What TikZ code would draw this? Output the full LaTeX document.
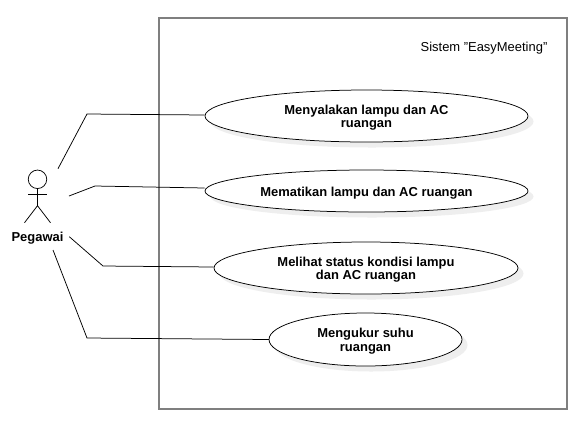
\documentclass[tikz,border=0pt]{standalone}
\usepackage{fontspec}
\setmainfont{Liberation Sans}
\usetikzlibrary{shapes.geometric,shadows}
\definecolor{shadowgrey}{HTML}{EEEEEE}
\definecolor{framegrey}{HTML}{7F7F7F}
\newcommand{\lowerline}{\rule{0pt}{13bp}}
\tikzset{
  usecase/.style={ellipse,draw=black,fill=white,line width=0.75bp,inner sep=0pt,
    align=center,font=\fontsize{13}{13.5}\selectfont\bfseries,
    drop shadow={shadow xshift=5.5bp,shadow yshift=-5.5bp,fill=shadowgrey,opacity=1}},
  frame/.style={draw=framegrey,line width=1.9bp,outer sep=0pt},
  link/.style={draw=black,line width=0.75bp},
  limb/.style={draw=black,line width=0.75bp},
  caption/.style={font=\fontsize{13}{14}\selectfont},
}
\begin{document}
\begin{tikzpicture}[x=1bp,y=-1bp]
\useasboundingbox (0,0) rectangle (588,431);
\fill[white] (0,0) rectangle (588,431);
\node[frame,rectangle,minimum width=408bp,minimum height=391bp,inner sep=0pt] (system) at (363,213.5) {};
\node[caption,anchor=center] (title) at (484,47.7) {Sistem "EasyMeeting"};
\node[usecase,minimum width=323bp,minimum height=52bp] (uc1) at (366.5,116) {\lowerline Menyalakan lampu dan AC\\ruangan};
\node[usecase,minimum width=323bp,minimum height=42bp,text height=12.8bp] (uc2) at (366.5,191) {Mematikan lampu dan AC ruangan};
\node[usecase,minimum width=304bp,minimum height=52bp] (uc3) at (366,268) {\lowerline Melihat status kondisi lampu\\dan AC ruangan};
\node[usecase,minimum width=193bp,minimum height=53bp] (uc4) at (365.5,339.5) {\lowerline Mengukur suhu\\ruangan};
% actor
\node[circle,draw=black,line width=0.75bp,minimum size=18.5bp,inner sep=0pt] (head) at (37.5,179.3) {};
\coordinate (hip) at (37.5,205.7);
\coordinate (armL) at (28.3,194.7);
\coordinate (armR) at (46.7,194.7);
\coordinate (footL) at (24.5,222.7);
\coordinate (footR) at (50.5,222.7);
\draw[limb] (head.south) -- (hip);
\draw[limb] (armL) -- (armR);
\draw[limb] (footL) -- (hip) -- (footR);
\node[font=\fontsize{13}{14}\selectfont\bfseries] (actor) at (37.5,237.7) {Pegawai};
% connectors
\coordinate (a1) at (58,168.7);
\coordinate (b1) at (87,114);
\coordinate (a2) at (69,196);
\coordinate (b2) at (95,186);
\coordinate (a3) at (69.3,236.7);
\coordinate (b3) at (103,266);
\coordinate (a4) at (53,250);
\coordinate (b4) at (87,338);
\draw[link] (a1) -- (b1) -- ([yshift=1bp]uc1.west);
\draw[link] (a2) -- (b2) -- ([yshift=3bp]uc2.west);
\draw[link] (a3) -- (b3) -- ([yshift=1bp]uc3.west);
\draw[link] (a4) -- (b4) -- ([xshift=0.5bp]uc4.west);
\end{tikzpicture}
\end{document}
